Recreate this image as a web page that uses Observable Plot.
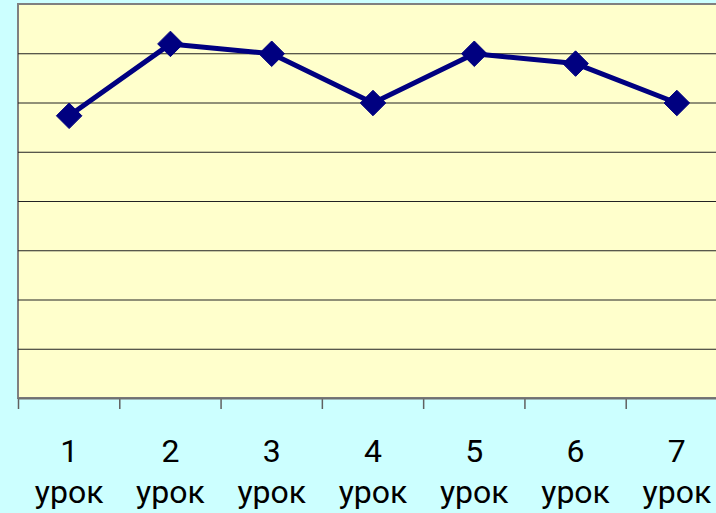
<!DOCTYPE html>
<html><head><meta charset="utf-8">
<script src="https://cdn.jsdelivr.net/npm/d3@7"></script>
<script src="https://cdn.jsdelivr.net/npm/@observablehq/plot@0.6"></script>
<style>
html,body{margin:0;padding:0;background:#CCFFFF;overflow:hidden;}
</style>
</head><body>
<div id="chart"></div>
<script>
const lessons = [1, 2, 3, 4, 5, 6, 7];
const lessonWord = "урок";
const values = [57.4, 72, 70, 60, 70, 68, 60];
const yTicks = [10, 20, 30, 40, 50, 60, 70];
const yMin = 0, yMax = 80;

const data = lessons.map((l, i) => ({lesson: l, value: values[i]}));
const xLo = lessons[0] - 0.5, xHi = lessons[lessons.length - 1] + 0.5;
const boundaries = [xLo].concat(lessons.map(l => l + 0.5));

const chart = Plot.plot({
  width: 716,
  height: 513,
  margin: 0,
  style: {background: "#CCFFFF", fontFamily: "Roboto, 'Liberation Sans', Arial, sans-serif"},
  x: {type: "linear", domain: [xLo, xHi], range: [18, 727], axis: null},
  y: {type: "linear", domain: [yMin, yMax], range: [398, 4], axis: null},
  marks: [
    Plot.rect([0], {x1: xLo, x2: xHi, y1: yMin, y2: yMax, fill: "#FFFFCC", stroke: "#808080", strokeWidth: 2}),
    Plot.ruleY(yTicks, {x1: xLo, x2: xHi, stroke: "#222222", strokeWidth: 1}),
    Plot.ruleX(boundaries, {x: d => d, y1: yMin, y2: yMin, insetBottom: -11, stroke: "#606060", strokeWidth: 1.5}),
    Plot.ruleY([yMin], {x1: xLo, x2: xHi, stroke: "#707070", strokeWidth: 2}),
    Plot.line(data, {x: "lesson", y: "value", stroke: "#000080", strokeWidth: 5}),
    Plot.dot(data, {x: "lesson", y: "value", symbol: "diamond2", r: 11.5, fill: "#000080", stroke: "#000080", strokeWidth: 1}),
    Plot.text(lessons, {x: d => d, y: yMin, text: d => String(d), dy: 53, fontSize: 32, fill: "#000", textAnchor: "middle"}),
    Plot.text(lessons, {x: d => d, y: yMin, text: () => lessonWord, dy: 94, fontSize: 32, fill: "#000", textAnchor: "middle"})
  ]
});
document.getElementById("chart").appendChild(chart);
</script>
</body></html>
